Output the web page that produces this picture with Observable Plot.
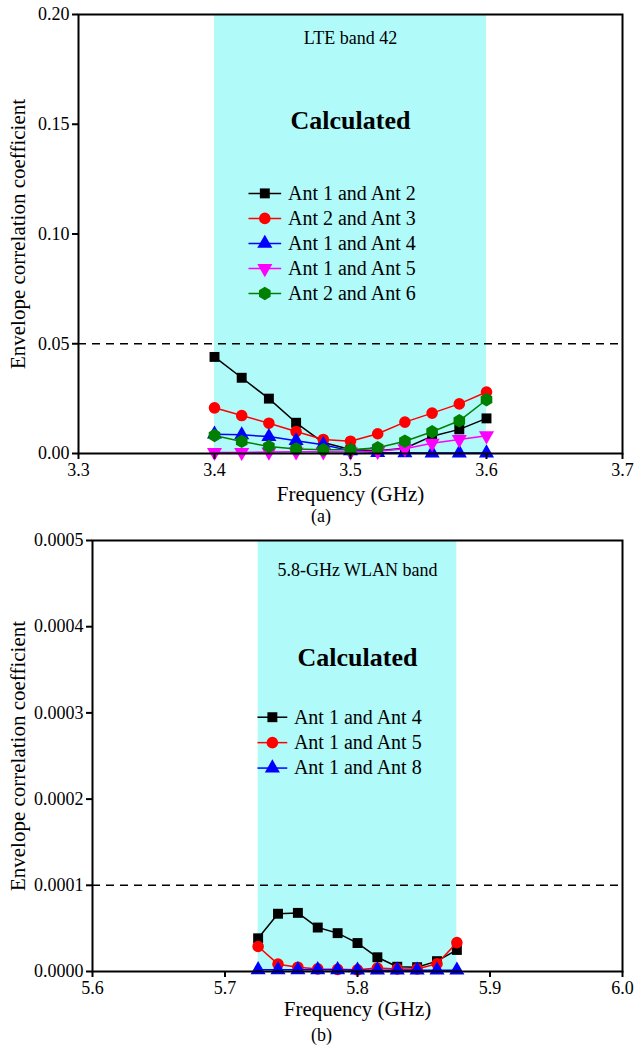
<!DOCTYPE html>
<html><head><meta charset="utf-8">
<script src="https://cdn.jsdelivr.net/npm/d3@7"></script>
<script src="https://cdn.jsdelivr.net/npm/@observablehq/plot@0.6"></script>
<style>
body{margin:0;background:#fff;font-family:"Liberation Serif","Times New Roman",serif;}
#wrap{position:relative;width:634px;height:1045px;overflow:hidden;}
.panel{position:absolute;left:0;}
svg, svg text, svg g {font-family:"Liberation Serif","Times New Roman",serif !important;}
.cap{position:absolute;font-size:18px;line-height:18px;color:#000;font-family:"Liberation Serif","Times New Roman",serif;}
</style></head><body>
<div id="wrap"></div>
<script>
// ---------- Panel (a) data: LTE band 42 ----------
const freqA = [3.40, 3.42, 3.44, 3.46, 3.48, 3.50, 3.52, 3.54, 3.56, 3.58, 3.60];
const ecc12 = [0.0440, 0.0345, 0.0250, 0.0140, 0.0050, 0.0018, 0.0012, 0.0024, 0.0079, 0.0110, 0.0160];
const ecc23 = [0.0208, 0.0173, 0.0138, 0.0100, 0.0064, 0.0056, 0.0090, 0.0143, 0.0184, 0.0226, 0.0280];
const ecc14 = [0.0088, 0.0085, 0.0077, 0.0058, 0.0040, 0.0012, 0.0004, 0.0003, 0.0002, 0.0002, 0.0002];
const ecc15 = [0.0005, 0.0005, 0.0007, 0.0008, 0.0008, 0.0007, 0.0010, 0.0022, 0.0047, 0.0064, 0.0081];
const ecc26 = [0.0082, 0.0055, 0.0032, 0.0021, 0.0017, 0.0017, 0.0026, 0.0056, 0.0099, 0.0149, 0.0245];
const namesA = ["Ant 1 and Ant 2", "Ant 2 and Ant 3", "Ant 1 and Ant 4", "Ant 1 and Ant 5", "Ant 2 and Ant 6"];
const bandA = [3.4, 3.6];
const limitA = 0.05;
const xTicksA = [3.3, 3.4, 3.5, 3.6, 3.7];
const yTicksA = [0, 0.05, 0.10, 0.15, 0.20];

// ---------- Panel (b) data: 5.8-GHz WLAN band ----------
const freqB = [5.725, 5.740, 5.755, 5.770, 5.785, 5.800, 5.815, 5.830, 5.845, 5.860, 5.875];
const eccB14 = [0.0000385, 0.0000670, 0.0000680, 0.0000510, 0.0000445, 0.0000330, 0.0000165, 0.0000055, 0.0000050, 0.0000120, 0.0000250];
const eccB15 = [0.0000290, 0.0000085, 0.0000050, 0.0000030, 0.0000025, 0.0000020, 0.0000040, 0.0000030, 0.0000030, 0.0000090, 0.0000335];
const eccB18 = [0.0000020, 0.0000020, 0.0000020, 0.0000020, 0.0000020, 0.0000015, 0.0000015, 0.0000015, 0.0000015, 0.0000015, 0.0000015];
const namesB = ["Ant 1 and Ant 4", "Ant 1 and Ant 5", "Ant 1 and Ant 8"];
const bandB = [5.725, 5.875];
const limitB = 0.0001;
const xTicksB = [5.6, 5.7, 5.8, 5.9, 6.0];
const yTicksB = [0, 0.0001, 0.0002, 0.0003, 0.0004, 0.0005];

// ---------- styles ----------
const invTriangle = {
  draw(context, size) {
    const y = -Math.sqrt(size / (Math.sqrt(3) * 3));
    context.moveTo(0, -y * 2);
    context.lineTo(-Math.sqrt(3) * y, y);
    context.lineTo(Math.sqrt(3) * y, y);
    context.closePath();
  }
};
const styleA = [
  {color: "#000000", symbol: "square", r: 5.6},
  {color: "#ff0000", symbol: "circle", r: 5.8},
  {color: "#0000ff", symbol: "triangle", r: 5.6},
  {color: "#ff00ff", symbol: invTriangle, r: 5.6},
  {color: "#008000", symbol: "hexagon", r: 5.8}
];
const styleB = [styleA[0], styleA[1], styleA[2]];
const FONT = '"Liberation Serif","Times New Roman",serif';

function makePanel(cfg) {
  const rows = [];
  cfg.series.forEach((vals, i) => vals.forEach((v, j) => rows.push({f: cfg.freq[j], v, s: i})));
  const marks = [
    Plot.rectY([cfg.band], {x1: d => d[0], x2: d => d[1], y1: cfg.yDomain[0], y2: cfg.yDomain[1], fill: "#b0fafa"}),
    Plot.ruleY([cfg.limit], {stroke: "#000", strokeWidth: 1.6, strokeDasharray: "8,6"}),
    Plot.text([cfg.bandLabel], {x: cfg.bandLabelX, y: cfg.bandLabelY, fontSize: 18, fill: "#000"}),
    Plot.text(["Calculated"], {x: cfg.calcX, y: cfg.calcY, fontSize: 26, fontWeight: "bold", fill: "#000"})
  ];
  cfg.series.forEach((vals, i) => {
    const st = cfg.styles[i];
    const d = rows.filter(r => r.s === i);
    marks.push(Plot.line(d, {x: "f", y: "v", stroke: st.color, strokeWidth: 1.5}));
    marks.push(Plot.dot(d, {x: "f", y: "v", symbol: () => st.symbol, fill: st.color, stroke: "none", r: st.r}));
  });
  // legend
  const leg = cfg.names.map((n, i) => ({n, i, y: cfg.legY0 - i * cfg.legStep}));
  leg.forEach(L => {
    const st = cfg.styles[L.i];
    marks.push(Plot.link([L], {x1: cfg.legX1, x2: cfg.legX2, y1: "y", y2: "y", stroke: st.color, strokeWidth: 1.5}));
    marks.push(Plot.dot([L], {x: (cfg.legX1 + cfg.legX2) / 2, y: "y", symbol: () => st.symbol, fill: st.color, stroke: "none", r: st.r}));
    marks.push(Plot.text([L], {x: cfg.legXT, y: "y", text: "n", textAnchor: "start", fontSize: 20, fill: "#000"}));
  });
  marks.push(
    Plot.frame({stroke: "#000", strokeWidth: 2}),
    Plot.axisX({ticks: cfg.xTicks, tickFormat: d3.format(".1f"), tickSize: 6, tickPadding: 4, strokeWidth: 2, fontSize: 18, label: null}),
    Plot.axisY({ticks: cfg.yTicks, tickFormat: d3.format(cfg.yFmt), tickSize: 6, tickPadding: 3, strokeWidth: 2, fontSize: 18, label: null}),
    Plot.text(["Frequency (GHz)"], {frameAnchor: "bottom", lineAnchor: "middle", textAnchor: "middle", dy: cfg.xLabelDy, fontSize: 21, fill: "#000"}),
    Plot.text(["Envelope correlation coefficient"], {frameAnchor: "left", textAnchor: "middle", lineAnchor: "middle", rotate: -90, dx: -cfg.yLabelDx, fontSize: 21, fill: "#000"})
  );
  return Plot.plot({
    width: 634, height: cfg.height,
    marginLeft: cfg.marginLeft, marginRight: 12, marginTop: cfg.marginTop, marginBottom: 54,
    style: {fontFamily: FONT, color: "#000", background: "transparent", overflow: "visible"},
    x: {domain: cfg.xDomain},
    y: {domain: cfg.yDomain},
    marks
  });
}

const wrap = document.getElementById("wrap");

const pA = makePanel({
  freq: freqA, series: [ecc12, ecc23, ecc14, ecc15, ecc26], names: namesA, styles: styleA,
  band: bandA, limit: limitA, xTicks: xTicksA, yTicks: yTicksA, yFmt: ".2f",
  xDomain: [3.3, 3.7], yDomain: [0, 0.2],
  bandLabel: "LTE band 42", bandLabelX: 3.5, bandLabelY: 0.189,
  calcX: 3.5, calcY: 0.1517,
  legX1: 3.425, legX2: 3.449, legXT: 3.454, legY0: 0.1185, legStep: 0.0114,
  height: 507, marginTop: 14, marginLeft: 78, yLabelDx: 60, xLabelDy: 41
});
pA.classList.add("panel"); pA.style.top = "0px";
wrap.appendChild(pA);

const pB = makePanel({
  freq: freqB, series: [eccB14, eccB15, eccB18], names: namesB, styles: styleB,
  band: bandB, limit: limitB, xTicks: xTicksB, yTicks: yTicksB, yFmt: ".4f",
  xDomain: [5.6, 6.0], yDomain: [0, 0.0005],
  bandLabel: "5.8-GHz WLAN band", bandLabelX: 5.8, bandLabelY: 0.000466,
  calcX: 5.8, calcY: 0.000364,
  legX1: 5.7245, legX2: 5.747, legXT: 5.752, legY0: 0.000295, legStep: 0.0000295,
  height: 510, marginTop: 25, marginLeft: 92, yLabelDx: 74, xLabelDy: 38
});
pB.classList.add("panel"); pB.style.top = "515px";
wrap.appendChild(pB);

const capA = document.createElement("div");
capA.className = "cap"; capA.textContent = "(a)";
capA.style.top = "507px"; capA.style.left = "311px";
wrap.appendChild(capA);
const capB = document.createElement("div");
capB.className = "cap"; capB.textContent = "(b)";
capB.style.top = "1026px"; capB.style.left = "311px";
wrap.appendChild(capB);
</script>
</body></html>
